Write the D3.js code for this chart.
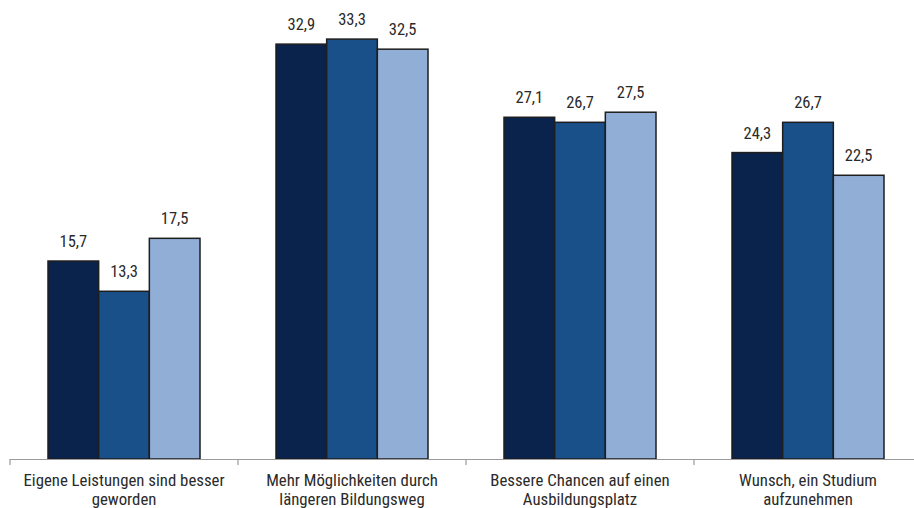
<!DOCTYPE html>
<html><head><meta charset="utf-8">
<script src="https://cdn.jsdelivr.net/npm/d3@7"></script>
<style>
body{margin:0;background:#fff;}
text{font-family:"Liberation Sans Narrow","Arial Narrow","Roboto Condensed",sans-serif;fill:#2a2a2a;}
</style></head>
<body><svg id="c" width="914" height="508"></svg>
<script>
const categories = [
  ["Eigene Leistungen sind besser","geworden"],
  ["Mehr Möglichkeiten durch","längeren Bildungsweg"],
  ["Bessere Chancen auf einen","Ausbildungsplatz"],
  ["Wunsch, ein Studium","aufzunehmen"]
];
const seriesNames = ["Serie 1","Serie 2","Serie 3"];
const series1 = [15.7, 32.9, 27.1, 24.3];
const series2 = [13.3, 33.3, 26.7, 26.7];
const series3 = [17.5, 32.5, 27.5, 22.5];
const colors = ["#0a234d","#195089","#91aed6"];

const svg = d3.select("#c");
const left = 10, right = 922, base = 459;
const x0 = d3.scaleBand().domain(d3.range(categories.length)).range([left, right]).paddingInner(0).paddingOuter(0);
const groupW = x0.bandwidth()*2/3;
const x1 = d3.scaleBand().domain(d3.range(3)).range([0, groupW]);
const y = d3.scaleLinear().domain([0,35]).range([base, base-35*12.61]);

const data = [series1, series2, series3];
const fmt = v => d3.format(".1f")(v).replace(".", ",");

categories.forEach((cat, ci) => {
  const gx = x0(ci) + (x0.bandwidth()-groupW)/2;
  data.forEach((s, si) => {
    const v = s[ci];
    svg.append("rect")
      .attr("x", gx + x1(si))
      .attr("y", y(v))
      .attr("width", x1.bandwidth())
      .attr("height", base - y(v))
      .attr("fill", colors[si])
      .attr("stroke", "#1e1e1e")
      .attr("stroke-width", 1.5);
    svg.append("text")
      .attr("x", gx + x1(si) + x1.bandwidth()/2)
      .attr("y", y(v) - 14)
      .attr("text-anchor", "middle")
      .attr("font-size", 16.5)
      .text(fmt(v));
  });
});

// axis
const axisG = svg.append("g");
axisG.append("line").attr("x1", left).attr("x2", right).attr("y1", base+0.5).attr("y2", base+0.5)
  .attr("stroke", "#9a9a9a").attr("stroke-width", 1.2);
d3.range(categories.length+1).forEach(i => {
  const tx = i < categories.length ? x0(i) : right;
  axisG.append("line").attr("x1", tx).attr("x2", tx).attr("y1", base).attr("y2", base+6)
    .attr("stroke", "#9a9a9a").attr("stroke-width", 1.2);
});
categories.forEach((cat, ci) => {
  const t = svg.append("text")
    .attr("x", x0(ci) + x0.bandwidth()/2)
    .attr("y", 486)
    .attr("text-anchor", "middle")
    .attr("font-size", 16.8);
  cat.forEach((line, li) => {
    t.append("tspan").attr("x", x0(ci) + x0.bandwidth()/2).attr("dy", li === 0 ? 0 : 19).text(line);
  });
});
</script></body></html>
